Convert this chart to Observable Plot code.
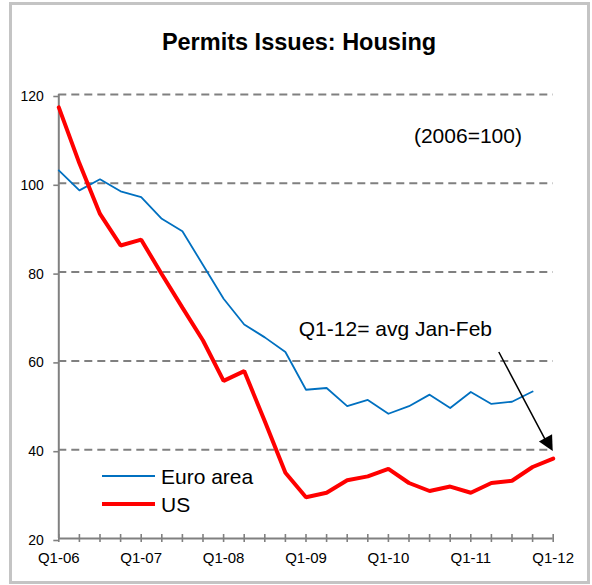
<!DOCTYPE html>
<html>
<head>
<meta charset="utf-8">
<script src="https://cdn.jsdelivr.net/npm/d3@7"></script>
<script src="https://cdn.jsdelivr.net/npm/@observablehq/plot@0.6"></script>
<style>
  html, body { margin: 0; padding: 0; background: #fff; }
  #chart { position: relative; width: 592px; height: 585px; }
  svg { font-family: "Liberation Sans", Arial, sans-serif; }
</style>
</head>
<body>
<div id="chart"></div>
<script>
const quarters = [
  "Q1-06","Q2-06","Q3-06","Q4-06",
  "Q1-07","Q2-07","Q3-07","Q4-07",
  "Q1-08","Q2-08","Q3-08","Q4-08",
  "Q1-09","Q2-09","Q3-09","Q4-09",
  "Q1-10","Q2-10","Q3-10","Q4-10",
  "Q1-11","Q2-11","Q3-11","Q4-11",
  "Q1-12"
];
const euroArea = [102.9, 98.4, 100.9, 98.2, 96.9, 92.0, 89.2, 81.6, 74.0, 68.2, 65.3, 62.0,
                  53.5, 53.9, 49.8, 51.2, 48.1, 49.8, 52.4, 49.4, 53.0, 50.3, 50.8, 53.1];
const us = [117.1, 104.5, 93.1, 86.0, 87.3, 79.5, 72.0, 64.6, 55.5, 57.7, 46.4, 34.8,
            29.3, 30.3, 33.1, 34.0, 35.7, 32.5, 30.7, 31.7, 30.3, 32.5, 33.0, 36.1, 38.0];
const yTicks = [20, 40, 60, 80, 100, 120];
const gridValues = [40, 60, 80, 100, 120];
const seriesNames = ["Euro area", "US"];
const seriesColors = ["#0070C0", "#FF0000"];

const euroData = euroArea.map((v, i) => ({i, v}));
const usData = us.map((v, i) => ({i, v}));
const qIdx = quarters.map((q, i) => i);

const axisGray = "#808080";

const chart = Plot.plot({
  width: 592,
  height: 585,
  marginLeft: 58.3,
  marginRight: 39.3,
  marginTop: 94,
  marginBottom: 47,
  style: {fontFamily: '"Liberation Sans", Arial, sans-serif', background: "transparent", color: "#000"},
  x: {type: "linear", domain: [0, quarters.length - 1]},
  y: {domain: [20, 120]},
  marks: [
    Plot.ruleY(gridValues, {stroke: axisGray, strokeWidth: 2, strokeDasharray: "8,5"}),
    Plot.ruleY([20], {stroke: axisGray, strokeWidth: 2}),
    Plot.ruleX([0], {y1: 20, y2: 120, stroke: axisGray, strokeWidth: 2}),
    Plot.ruleX(qIdx, {x: d => d, y1: 19.1, y2: 20.9, stroke: axisGray, strokeWidth: 1.6}),
    Plot.axisY({ticks: yTicks, tickSize: 5, tickPadding: 10, fontSize: 14, stroke: axisGray, strokeWidth: 1.6, label: null, dy: 2}),
    Plot.axisX({ticks: qIdx, tickSize: 0, tickPadding: 14, fontSize: 15, label: null,
      tickFormat: i => (i % 4 === 0 ? quarters[i] : "")}),
    Plot.line(euroData, {x: "i", y: "v", stroke: seriesColors[0], strokeWidth: 1.8}),
    Plot.line(usData, {x: "i", y: "v", stroke: seriesColors[1], strokeWidth: 4, strokeLinejoin: "miter"}),
    Plot.text(["Q1-12= avg Jan-Feb"], {x: 11.65, y: 67.2, text: d => d, textAnchor: "start", fontSize: 21, fill: "#000"}),
    Plot.text(["(2006=100)"], {x: 19.86, y: 110.6, text: d => d, fontSize: 21, fill: "#000"}),
    Plot.link([0], {x1: 21.36, y1: 62.0, x2: 23.6, y2: 42.4, stroke: "#000", strokeWidth: 1.5})
  ]
});

document.getElementById("chart").appendChild(chart);
const svg = d3.select(chart);
const sx = chart.scale("x"), sy = chart.scale("y");

// arrow head (filled triangle) using the chart scales
{
  const x1 = sx.apply(21.36), y1 = sy.apply(62.0);
  const x2 = sx.apply(24), y2 = sy.apply(39.6);
  const dx = x2 - x1, dy = y2 - y1, L = Math.hypot(dx, dy);
  const ux = dx / L, uy = dy / L, px = -uy, py = ux;
  const hl = 15, hw = 7.5;
  const bx = x2 - ux * hl, by = y2 - uy * hl;
  svg.append("polygon")
    .attr("points", [[x2, y2], [bx + px * hw, by + py * hw], [bx - px * hw, by - py * hw]].map(p => p.join(",")).join(" "))
    .attr("fill", "#000");
}

// outer frame
svg.append("rect")
  .attr("x", 10.5).attr("y", 3.5).attr("width", 578).attr("height", 579)
  .attr("fill", "none").attr("stroke", "#c4c4c4").attr("stroke-width", 3);

// title
svg.append("text")
  .attr("x", 299).attr("y", 50)
  .attr("text-anchor", "middle")
  .attr("font-size", 23.5).attr("font-weight", "bold")
  .attr("fill", "#000")
  .text("Permits Issues: Housing");

// legend
const legendY = [476, 504];
const legendW = [1.8, 4];
seriesNames.forEach((name, k) => {
  svg.append("line")
    .attr("x1", 102).attr("x2", 155)
    .attr("y1", legendY[k]).attr("y2", legendY[k])
    .attr("stroke", seriesColors[k]).attr("stroke-width", legendW[k]);
  svg.append("text")
    .attr("x", 161).attr("y", legendY[k] + 8)
    .attr("text-anchor", "start")
    .attr("font-size", 21).attr("fill", "#000")
    .text(name);
});
</script>
</body>
</html>
